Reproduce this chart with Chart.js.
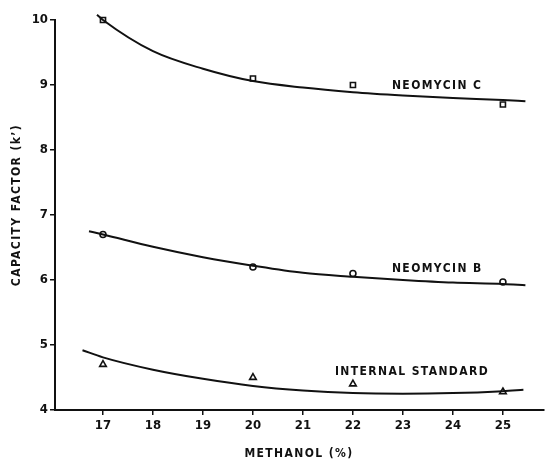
<!DOCTYPE html>
<html>
<head>
<meta charset="utf-8">
<script src="https://cdn.jsdelivr.net/npm/chart.js@4/dist/chart.umd.min.js"></script>
<style>
  html, body { margin: 0; padding: 0; background: #fff; }
  #wrap { width: 549px; height: 465px; position: relative; }
</style>
</head>
<body>
<div id="wrap"><canvas id="c" width="549" height="465"></canvas></div>
<script>
// measured points
const xPoints = [17, 20, 22, 25];
const neoC = [10.0, 9.1, 9.0, 8.7];
const neoB = [6.7, 6.2, 6.1, 5.97];
const stdPts = [4.7, 4.5, 4.4, 4.28];

// fitted curves
const curveCx = [16.88, 17, 18, 19, 20, 21, 22, 23, 24, 25, 25.45];
const curveCy = [10.08, 10.0, 9.52, 9.25, 9.06, 8.96, 8.89, 8.84, 8.80, 8.77, 8.75];
const curveBx = [16.72, 17, 18, 19, 20, 21, 22, 23, 24, 25, 25.45];
const curveBy = [6.75, 6.70, 6.51, 6.35, 6.22, 6.11, 6.05, 6.00, 5.96, 5.94, 5.92];
const curveSx = [16.59, 17, 18, 19, 20, 21, 22, 23, 24, 25, 25.41];
const curveSy = [4.92, 4.81, 4.62, 4.48, 4.37, 4.30, 4.26, 4.25, 4.26, 4.29, 4.31];

const xTicks = [17, 18, 19, 20, 21, 22, 23, 24, 25];
const yTicks = [4, 5, 6, 7, 8, 9, 10];

const labels = [
  { text: 'NEOMYCIN C', x: 22.78, y: 8.98 },
  { text: 'NEOMYCIN B', x: 22.78, y: 6.17 },
  { text: 'INTERNAL STANDARD', x: 21.64, y: 4.58 }
];

const FONT = "'Liberation Sans Narrow', 'DejaVu Sans Condensed', 'Roboto', sans-serif";
const INK = '#111';

const pairs = (xs, ys) => xs.map((x, i) => ({ x: x, y: ys[i] }));

const curve = (xs, ys) => ({
  type: 'line', data: pairs(xs, ys), borderColor: INK, borderWidth: 2,
  pointRadius: 0, fill: false, cubicInterpolationMode: 'monotone', clip: false
});
const marks = (ys, style, r) => ({
  type: 'scatter', data: pairs(xPoints, ys), pointStyle: style, pointRadius: r,
  backgroundColor: '#fff', borderColor: INK, borderWidth: 1.6, showLine: false, clip: false
});

// text labels and axis titles
const textPlugin = {
  id: 'texts',
  afterDraw(chart) {
    const ctx = chart.ctx, xs = chart.scales.x, ys = chart.scales.y;
    ctx.save();
    ctx.fillStyle = INK;
    ctx.font = 'bold 12px ' + FONT;
    ctx.textBaseline = 'middle';
    ctx.textAlign = 'left';
    if ('letterSpacing' in ctx) ctx.letterSpacing = '1.4px';
    labels.forEach(l => ctx.fillText(l.text, xs.getPixelForValue(l.x), ys.getPixelForValue(l.y)));
    ctx.textAlign = 'center';
    ctx.fillText('METHANOL (%)', 299, 454);
    ctx.translate(17, 205);
    ctx.rotate(-Math.PI / 2);
    ctx.fillText('CAPACITY FACTOR (k\u2019)', 0, 0);
    ctx.restore();
  }
};

new Chart(document.getElementById('c'), {
  data: {
    datasets: [
      curve(curveCx, curveCy), curve(curveBx, curveBy), curve(curveSx, curveSy),
      marks(neoC, 'rect', 3.6), marks(neoB, 'circle', 3), marks(stdPts, 'triangle', 3.8)
    ]
  },
  options: {
    responsive: false,
    animation: false,
    layout: { padding: { top: 20, right: 1, left: 0, bottom: 0 } },
    plugins: { legend: { display: false }, tooltip: { enabled: false } },
    scales: {
      x: {
        type: 'linear', min: 16.04, max: 25.81,
        afterBuildTicks: s => { s.ticks = xTicks.map(v => ({ value: v })); },
        afterFit: s => { s.height = 55; },
        grid: { drawOnChartArea: false, drawTicks: true, tickLength: 5, color: INK, lineWidth: 1.5 },
        border: { display: true, color: INK, width: 2 },
        ticks: { color: INK, font: { family: FONT, size: 13, weight: 'bold' }, padding: 3 }
      },
      y: {
        type: 'linear', min: 4, max: 10,
        afterBuildTicks: s => { s.ticks = yTicks.map(v => ({ value: v })); },
        afterFit: s => { s.width = 55; },
        grid: { drawOnChartArea: false, drawTicks: true, tickLength: 5, color: INK, lineWidth: 1.5 },
        border: { display: true, color: INK, width: 2 },
        ticks: { color: INK, font: { family: FONT, size: 13, weight: 'bold' }, padding: 2 }
      }
    }
  },
  plugins: [textPlugin]
});
</script>
</body>
</html>
